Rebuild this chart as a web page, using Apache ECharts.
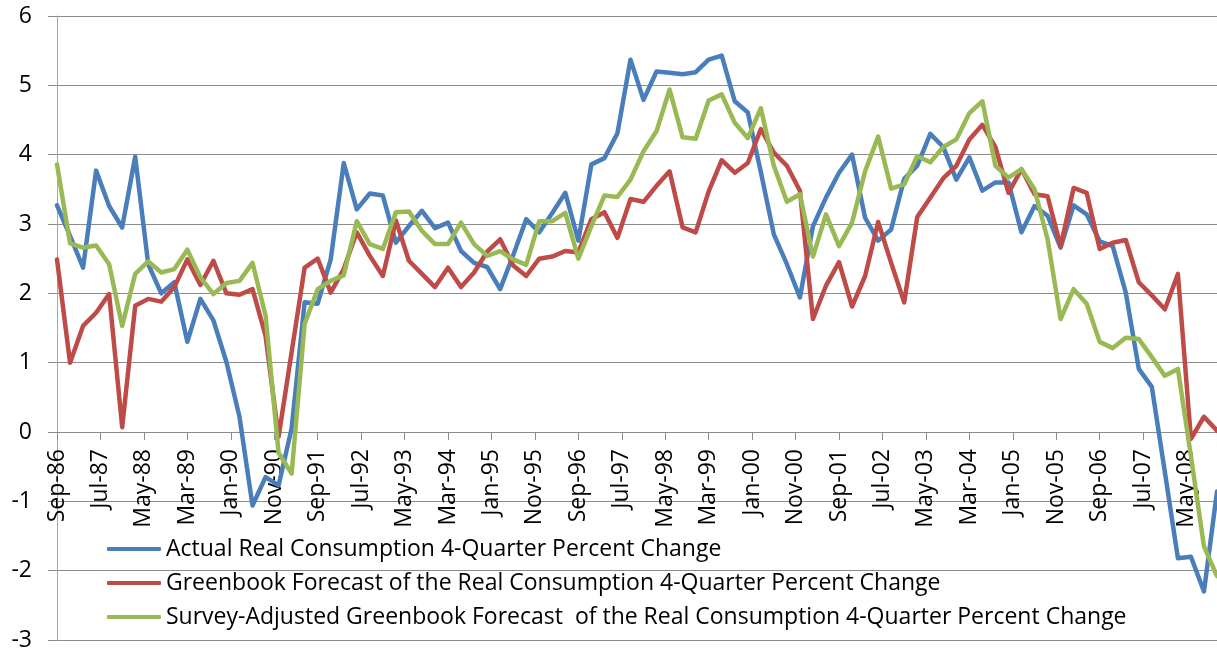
<!DOCTYPE html>
<html>
<head>
<meta charset="utf-8">
<title>Real Consumption 4-Quarter Percent Change</title>
<script src="https://cdn.jsdelivr.net/npm/echarts@6.0.0/dist/echarts.min.js"></script>
<style>
  html, body { margin: 0; padding: 0; background: #fff; }
  #chart { width: 1217px; height: 650px; }
</style>
</head>
<body>
<div id="chart"></div>
<script>
// quarterly observations, Sep-86 .. Dec-08 (one value every 3 months)
var actual = [
  3.27, 2.83, 2.37, 3.77, 3.26, 2.95, 3.97, 2.42, 2.00, 2.16,
  1.30, 1.92, 1.61, 1.01, 0.22, -1.06, -0.65, -0.77, 0.05, 1.87,
  1.85, 2.49, 3.88, 3.21, 3.44, 3.41, 2.73, 2.97, 3.19, 2.94,
  3.02, 2.61, 2.44, 2.38, 2.06, 2.55, 3.07, 2.88, 3.16, 3.45,
  2.76, 3.86, 3.95, 4.31, 5.37, 4.79, 5.20, 5.18, 5.16, 5.19,
  5.37, 5.43, 4.77, 4.61, 3.75, 2.85, 2.42, 1.94, 2.97, 3.38,
  3.74, 4.00, 3.09, 2.76, 2.92, 3.65, 3.84, 4.30, 4.11, 3.64,
  3.96, 3.48, 3.60, 3.60, 2.88, 3.26, 3.12, 2.66, 3.27, 3.14,
  2.75, 2.68, 2.01, 0.91, 0.65, -0.58, -1.82, -1.80, -2.30, -0.86
];
var greenbook = [
  2.49, 1.00, 1.53, 1.72, 1.99, 0.07, 1.82, 1.92, 1.88, 2.09,
  2.49, 2.12, 2.47, 2.00, 1.98, 2.06, 1.39, -0.07, 1.15, 2.37,
  2.50, 2.01, 2.35, 2.88, 2.54, 2.25, 3.05, 2.47, 2.28, 2.09,
  2.37, 2.09, 2.30, 2.60, 2.78, 2.40, 2.25, 2.50, 2.53, 2.61,
  2.59, 3.07, 3.17, 2.80, 3.36, 3.32, 3.55, 3.76, 2.95, 2.88,
  3.47, 3.92, 3.74, 3.88, 4.37, 4.03, 3.84, 3.48, 1.63, 2.11,
  2.45, 1.81, 2.25, 3.03, 2.44, 1.87, 3.10, 3.38, 3.66, 3.84,
  4.22, 4.43, 4.11, 3.45, 3.79, 3.43, 3.40, 2.68, 3.52, 3.45,
  2.64, 2.73, 2.77, 2.16, 1.97, 1.77, 2.28, -0.10, 0.22, 0.02
];
var surveyAdjusted = [
  3.86, 2.72, 2.66, 2.69, 2.42, 1.53, 2.28, 2.46, 2.30, 2.35,
  2.63, 2.23, 1.99, 2.15, 2.18, 2.44, 1.68, -0.30, -0.60, 1.56,
  2.06, 2.18, 2.26, 3.04, 2.71, 2.64, 3.17, 3.18, 2.90, 2.71,
  2.71, 3.02, 2.71, 2.54, 2.61, 2.49, 2.41, 3.04, 3.04, 3.16,
  2.50, 2.97, 3.41, 3.39, 3.64, 4.05, 4.34, 4.94, 4.25, 4.23,
  4.78, 4.87, 4.46, 4.24, 4.67, 3.84, 3.32, 3.43, 2.53, 3.14,
  2.68, 3.02, 3.76, 4.26, 3.51, 3.57, 3.98, 3.89, 4.11, 4.22,
  4.60, 4.77, 3.84, 3.67, 3.79, 3.50, 2.78, 1.63, 2.06, 1.85,
  1.30, 1.21, 1.36, 1.34, 1.08, 0.81, 0.91, -0.35, -1.65, -2.08
];

var seriesNames = [
  "Actual Real Consumption 4-Quarter Percent Change",
  "Greenbook Forecast of the Real Consumption 4-Quarter Percent Change",
  "Survey-Adjusted Greenbook Forecast  of the Real Consumption 4-Quarter Percent Change"
];
var seriesColors = ["#4a7ebb", "#be4b48", "#98b954"];

// monthly date axis like Excel's, labelled every 10 months
var monthNames = ["Jan", "Feb", "Mar", "Apr", "May", "Jun", "Jul", "Aug", "Sep", "Oct", "Nov", "Dec"];
var months = [];
for (var i = 0; i <= (actual.length - 1) * 3; i++) {
  var m = 8 + i; // start at Sep-86
  var yy = (1986 + Math.floor(m / 12)) % 100;
  months.push(monthNames[m % 12] + "-" + (yy < 10 ? "0" + yy : yy));
}

function toMonthly(values) {
  var out = months.map(function () { return null; });
  values.forEach(function (v, k) { out[k * 3] = v; });
  return out;
}

var font = "'Open Sans', sans-serif";
var gridTop = 16, gridBottom = 10, yMin = -3, yMax = 6;
// the category axis sits on the zero line, labels included
var zeroOffset = -(650 - gridTop - gridBottom) * (0 - yMin) / (yMax - yMin);

var option = {
  animation: false,
  backgroundColor: "#fff",
  grid: {
    left: 57, right: 0, top: gridTop, bottom: gridBottom,
    outerBounds: { left: -200, top: -200, right: -200, bottom: -300 }
  },
  legend: {
    orient: "vertical",
    left: 102,
    top: 532,
    icon: "roundRect",
    itemWidth: 54,
    itemHeight: 4,
    itemGap: 10,
    textStyle: { fontFamily: font, fontSize: 23, color: "#000", lineHeight: 24 },
    data: seriesNames
  },
  xAxis: {
    type: "category",
    boundaryGap: false,
    data: months,
    offset: zeroOffset,
    axisLine: { onZero: false, lineStyle: { color: "#8c8c8c", width: 1 } },
    axisTick: { interval: 9, length: 8, lineStyle: { color: "#8c8c8c" } },
    axisLabel: {
      interval: 9,
      rotate: 90,
      margin: 17,
      fontFamily: font,
      fontSize: 23,
      color: "#000"
    },
    splitLine: { show: false }
  },
  yAxis: {
    type: "value",
    min: yMin,
    max: yMax,
    interval: 1,
    axisLine: { show: true, lineStyle: { color: "#a6a6a6", width: 1 } },
    axisTick: { show: true, length: 9, lineStyle: { color: "#8c8c8c" } },
    axisLabel: { margin: 25, fontFamily: font, fontSize: 23, color: "#000" },
    splitLine: { lineStyle: { color: "#8c8c8c", width: 1 } }
  },
  series: [actual, greenbook, surveyAdjusted].map(function (vals, k) {
    return {
      name: seriesNames[k],
      type: "line",
      data: toMonthly(vals),
      connectNulls: true,
      symbol: "none",
      color: seriesColors[k],
      lineStyle: { width: 4.5, color: seriesColors[k], cap: "round", join: "round" }
    };
  })
};

var chart = echarts.init(document.getElementById("chart"));
chart.setOption(option);
</script>
</body>
</html>
